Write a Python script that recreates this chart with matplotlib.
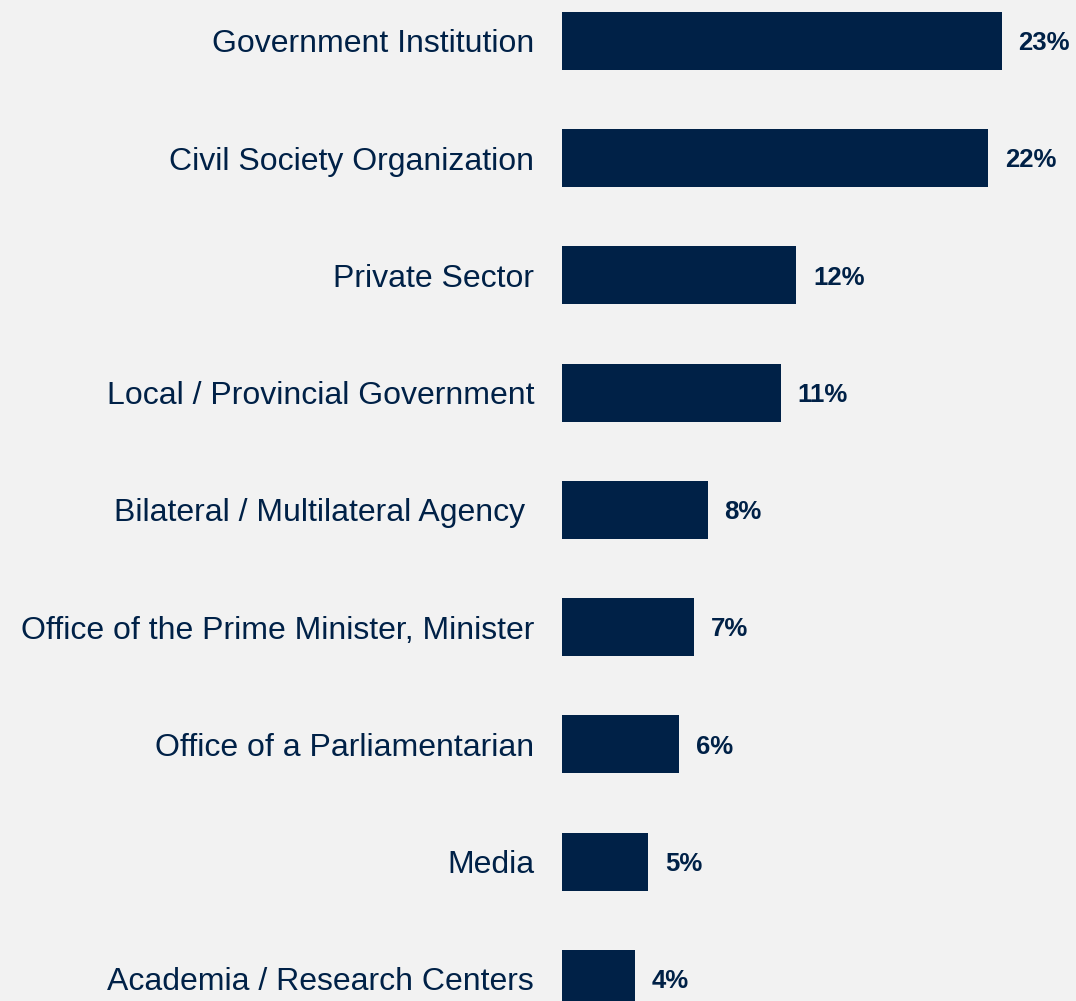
import matplotlib.pyplot as plt

# Share of respondents by institution type (percent)
categories = [
    "Government Institution",
    "Civil Society Organization",
    "Private Sector",
    "Local / Provincial Government",
    "Bilateral / Multilateral Agency ",
    "Office of the Prime Minister, Minister",
    "Office of a Parliamentarian",
    "Media",
    "Academia / Research Centers",
]
values = [22.9, 22.2, 12.2, 11.4, 7.6, 6.9, 6.1, 4.5, 3.8]
value_labels = ["23%", "22%", "12%", "11%", "8%", "7%", "6%", "5%", "4%"]

navy = "#002147"
bg = "#f2f2f2"

plt.rcParams["font.family"] = ["Liberation Sans", "DejaVu Sans"]

fig = plt.figure(figsize=(10.76, 10.01), dpi=100, facecolor=bg)
ax = fig.add_axes([562 / 1076, 0, 514 / 1076, 1])
ax.set_facecolor(bg)

ypos = list(range(len(categories)))
ax.barh(ypos, values, height=0.495, color=navy)

ax.set_xlim(0, 26.77)
ax.set_ylim(8.19, -0.35)

cat_size, val_size = 23, 18.5
for y, v, lab, cat in zip(ypos, values, value_labels, categories):
    # baseline placed so that capitals sit centred on the bar
    ax.annotate(lab, (v, y), xytext=(12, -0.716 * val_size / 2),
                textcoords="offset points", ha="left", va="baseline",
                fontsize=val_size, fontweight="bold", color=navy)
    ax.annotate(cat, (0, y), xytext=(-20, -0.716 * cat_size / 2),
                textcoords="offset points", ha="right", va="baseline",
                fontsize=cat_size, color=navy, annotation_clip=False)

for s in ax.spines.values():
    s.set_visible(False)
ax.set_xticks([])
ax.set_yticks([])

fig.savefig("out.png", dpi=100, facecolor=bg)
